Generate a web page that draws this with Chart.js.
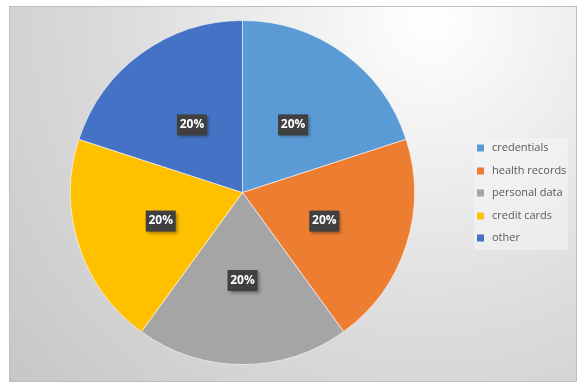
<!DOCTYPE html>
<html>
<head>
<meta charset="utf-8">
<script src="https://cdn.jsdelivr.net/npm/chart.js@4"></script>
<style>
  html, body { margin: 0; padding: 0; background: #fff; }
  #wrap { width: 587px; height: 386px; position: relative; }
</style>
</head>
<body>
<div id="wrap"><canvas id="chart" width="587" height="386"></canvas></div>
<script>
// data
const categories = ["credentials", "health records", "personal data", "credit cards", "other"];
const shares = [20, 20, 20, 20, 20];
const sliceColors = ["#5B9BD5", "#ED7D31", "#A5A5A5", "#FFC000", "#4472C4"];

// frame + gradient background behind the pie
const framePlugin = {
  id: "frame",
  beforeDraw(chart) {
    const ctx = chart.ctx;
    ctx.save();
    ctx.fillStyle = "#ffffff";
    ctx.fillRect(0, 0, chart.width, chart.height);
    const g = ctx.createRadialGradient(430, 20, 0, 430, 20, 560);
    g.addColorStop(0, "#ffffff");
    g.addColorStop(0.55, "#dcdcdc");
    g.addColorStop(1, "#c6c6c6");
    ctx.fillStyle = g;
    ctx.fillRect(9, 6, 568, 376);
    ctx.strokeStyle = "#bfbfbf";
    ctx.lineWidth = 1;
    ctx.strokeRect(9.5, 6.5, 567, 375);
    ctx.restore();
  },
  afterDraw(chart) {
    const ctx = chart.ctx;
    const meta = chart.getDatasetMeta(0);
    const total = shares.reduce((a, b) => a + b, 0);
    ctx.save();
    // percentage labels in dark boxes
    ctx.font = "bold 12px 'Open Sans', 'Liberation Sans', sans-serif";
    ctx.textAlign = "center";
    ctx.textBaseline = "middle";
    meta.data.forEach((arc, i) => {
      const p = arc.getCenterPoint();
      const px = p.x, py = p.y + 2;
      const txt = Math.round(shares[i] / total * 100) + "%";
      const w = 30, h = 21;
      ctx.save();
      ctx.shadowColor = "rgba(0,0,0,0.35)";
      ctx.shadowBlur = 3;
      ctx.shadowOffsetX = 2;
      ctx.shadowOffsetY = 2;
      ctx.fillStyle = "#404040";
      ctx.fillRect(px - w / 2, py - h / 2, w, h);
      ctx.restore();
      ctx.fillStyle = "#ffffff";
      ctx.fillText(txt, px, py);
    });
    // legend
    ctx.fillStyle = "rgba(245,245,245,0.55)";
    ctx.fillRect(474, 138, 94, 112);
    ctx.font = "11px 'Open Sans', 'Liberation Sans', sans-serif";
    ctx.textAlign = "left";
    const rows = [148, 171, 193, 216, 238];
    categories.forEach((c, i) => {
      ctx.fillStyle = sliceColors[i];
      ctx.fillRect(477, rows[i] - 3.5, 7, 7);
      ctx.fillStyle = "#595959";
      ctx.fillText(c, 492, rows[i]);
    });
    ctx.restore();
  }
};

new Chart(document.getElementById("chart"), {
  type: "pie",
  data: {
    labels: categories,
    datasets: [{
      data: shares,
      backgroundColor: sliceColors,
      borderColor: "rgba(255,255,255,0.6)",
      borderWidth: 1
    }]
  },
  options: {
    responsive: false,
    animation: false,
    layout: { padding: { left: 70, top: 20, right: 172, bottom: 21 } },
    plugins: {
      legend: { display: false },
      tooltip: { enabled: false }
    }
  },
  plugins: [framePlugin]
});
</script>
</body>
</html>
